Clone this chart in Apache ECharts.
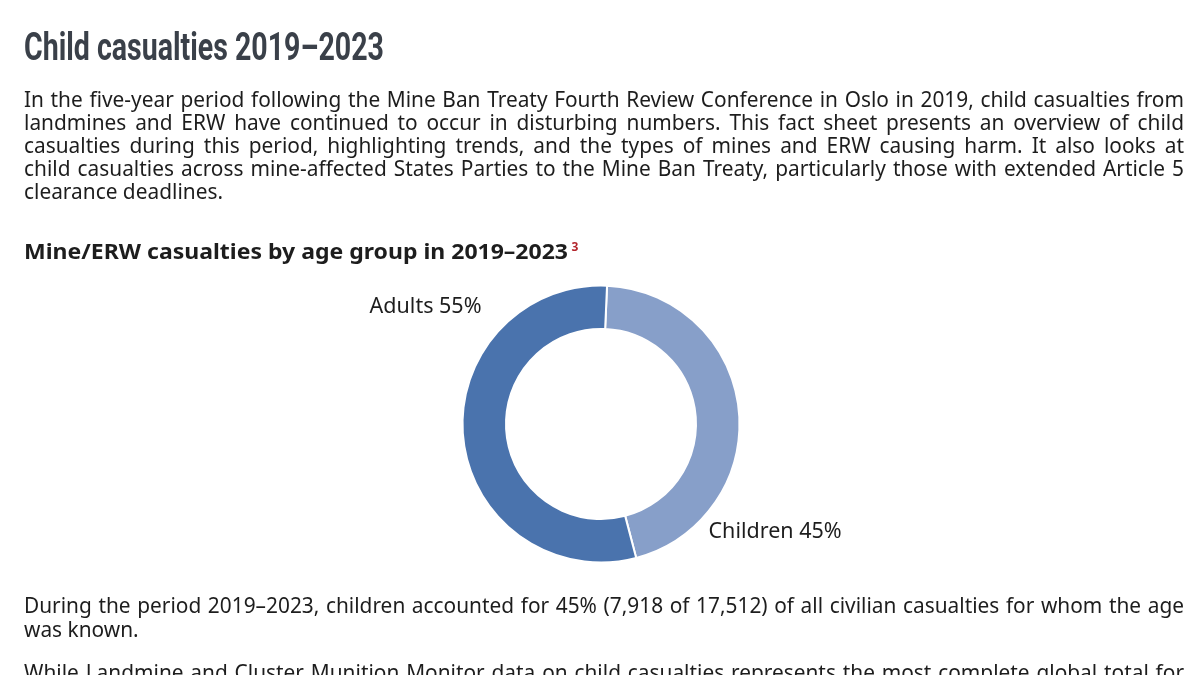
<!DOCTYPE html>
<html><head><meta charset="utf-8">
<script src="https://cdn.jsdelivr.net/npm/echarts@6/dist/echarts.min.js"></script>
<style>html,body{margin:0;padding:0;background:#fff}#c{width:1200px;height:675px}</style>
</head><body><div id="c"></div>
<script>
// ---- data ----
const categories = ['Children', 'Adults'];
const casualties = [7918, 9594];           // of 17,512 with known age
const titleText = 'Child casualties 2019–2023';
const introLines = [
  'In the five-year period following the Mine Ban Treaty Fourth Review Conference in Oslo in 2019, child casualties from',
  'landmines and ERW have continued to occur in disturbing numbers. This fact sheet presents an overview of child',
  'casualties during this period, highlighting trends, and the types of mines and ERW causing harm. It also looks at',
  'child casualties across mine-affected States Parties to the Mine Ban Treaty, particularly those with extended Article 5',
  'clearance deadlines.'
];
const headingText = 'Mine/ERW casualties by age group in 2019–2023';
const footnoteMark = '3';
const afterLines = [
  'During the period 2019–2023, children accounted for 45% (7,918 of 17,512) of all civilian casualties for whom the age',
  'was known.'
];
const nextLines = [
  'While Landmine and Cluster Munition Monitor data on child casualties represents the most complete global total for'
];

// ---- layout helpers ----
const ctx = document.createElement('canvas').getContext('2d');
function mw(t, f) { ctx.font = f; return ctx.measureText(t).width; }
const LEFT = 24, RIGHT = 1184;
const bodyFont = '21px "Noto Sans"';
const bodyColor = '#1d1d1d';
const bodyScale = 199 / mw('clearance deadlines.', bodyFont);
const elements = [];
let uid = 0;

function addText(t, x, cy, font, fill, sx) {
  elements.push({ type: 'text', id: 't' + (uid++), x: x, y: cy, scaleX: sx, silent: true,
    style: { text: t, x: 0, y: 0, font: font, fill: fill, align: 'left', verticalAlign: 'middle' } });
}
function addLine(line, cy, justify) {
  const words = line.split(' ');
  const ws = words.map(w => mw(w, bodyFont) * bodyScale);
  const total = ws.reduce((a, b) => a + b, 0);
  const gap = justify && words.length > 1 ? (RIGHT - LEFT - total) / (words.length - 1)
                                          : mw(' ', bodyFont) * bodyScale;
  let x = LEFT;
  words.forEach((w, i) => { addText(w, x, cy, bodyFont, bodyColor, bodyScale); x += ws[i] + gap; });
}
function addPara(lines, firstCy, step, lastJustify) {
  lines.forEach((l, i) => addLine(l, firstCy + i * step, lastJustify || i < lines.length - 1));
}

// title
const titleFont = 'bold 38px Roboto';
addText(titleText, LEFT, 50, titleFont, '#3a4049', 360 / mw(titleText, titleFont));
// intro paragraph
addPara(introLines, 101.5, 23, false);
// heading
const headFont = 'bold 22px "Noto Sans"';
addText(headingText, LEFT, 252.5, headFont, '#1d1d1d', 544 / mw(headingText, headFont));
addText(footnoteMark, 571.5, 248, 'bold 12px "Noto Sans"', '#b3262d', 1);
// following text
addPara(afterLines, 607.5, 24, false);
addPara(nextLines, 674, 24, true);

const CX = 601, CY = 424;
const chart = echarts.init(document.getElementById('c'), null, { renderer: 'canvas' });
chart.setOption({
  backgroundColor: '#ffffff',
  animation: false,
  graphic: { elements: elements },
  series: [{
    type: 'pie',
    center: [CX, CY],
    radius: [95, 138.5],
    startAngle: 87.5,
    clockwise: true,
    percentPrecision: 0,
    silent: true,
    itemStyle: { borderColor: '#ffffff', borderWidth: 2 },
    label: { show: true, position: 'outside', formatter: '{b} {d}%',
             fontFamily: '"Noto Sans"', fontSize: 21.5, color: '#1d1d1d' },
    labelLine: { show: false },
    labelLayout: function (p) {
      return p.dataIndex === 1
        ? { x: CX - 119.5, y: CY - 117.5, align: 'right', verticalAlign: 'middle' }
        : { x: CX + 107.5, y: CY + 107.5, align: 'left', verticalAlign: 'middle' };
    },
    data: categories.map((c, i) => ({
      name: c, value: casualties[i],
      itemStyle: { color: i === 0 ? '#879fc9' : '#4a73ad' }
    }))
  }]
});
</script></body></html>
